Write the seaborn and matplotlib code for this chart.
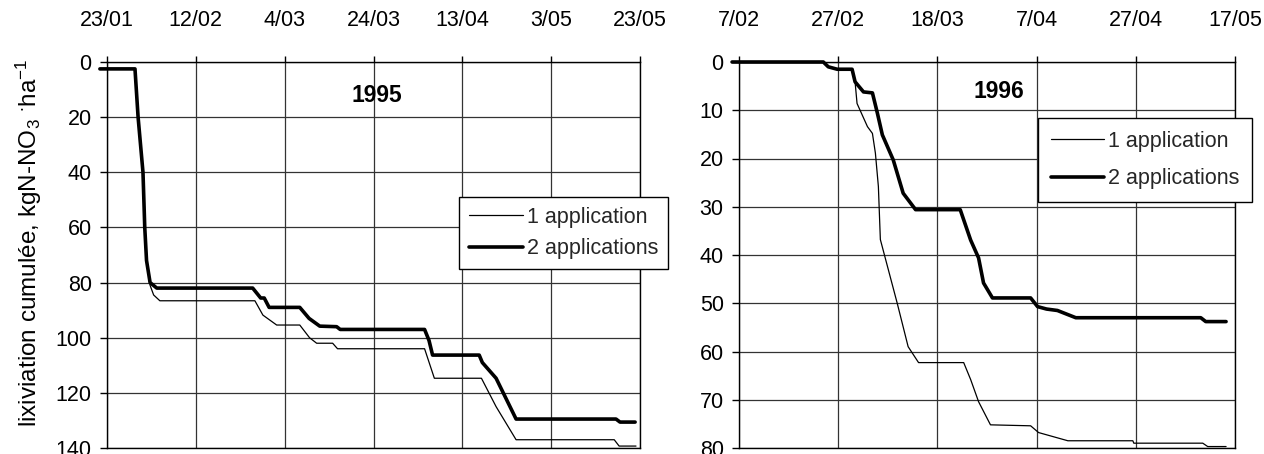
import numpy as np
import pandas as pd
import matplotlib
matplotlib.use("Agg")
import matplotlib.pyplot as plt
import seaborn as sns
from matplotlib.lines import Line2D

# ---------------- data ----------------
# days counted from the first tick date of each panel
days_95_two = [-1.6, 6.3, 7.0, 8.1, 8.5, 8.9, 9.7, 11.2, 32.8, 34.6, 35.4, 36.5, 43.4, 45.5,
               47.9, 51.7, 52.5, 71.5, 72.5, 73.3, 83.8, 84.5, 87.6, 92.1, 114.6, 115.5, 118.9]
vals_95_two = [2.5, 2.5, 20, 40, 60, 72, 80, 82, 82, 85.6, 85.6, 89, 89, 93,
               95.8, 96, 97, 97, 101, 106.3, 106.3, 109, 114.7, 129.5, 129.5, 130.6, 130.6]

days_95_one = [-1.6, 6.3, 7.0, 8.1, 8.5, 8.9, 9.7, 10.5, 11.9, 33.3, 35.1, 38.2, 43.4, 45.6,
               47.2, 50.8, 51.9, 71.5, 73.7, 84.3, 87.6, 92.1, 114.2, 115.3, 119.1]
vals_95_one = [2.5, 2.5, 20, 40, 60, 72, 81, 84.5, 86.6, 86.6, 91.8, 95.4, 95.4, 100,
               102, 102, 104, 104, 114.7, 114.7, 125, 137, 137, 139.3, 139.3]

days_96_two = [-1.4, 17.0, 18.0, 19.8, 22.8, 23.4, 25.1, 26.9, 27.9, 28.9, 31.1, 33.1, 35.6,
               44.6, 46.7, 48.3, 49.3, 51.1, 58.8, 60.2, 62.0, 64.2, 67.9, 93.1, 94.1, 98.2]
vals_96_two = [0, 0, 1.0, 1.5, 1.5, 4.1, 6.2, 6.4, 10.6, 15.1, 20.3, 27.2, 30.6,
               30.6, 36.9, 40.6, 45.8, 48.9, 48.9, 50.7, 51.2, 51.5, 53, 53, 53.8, 53.8]

days_96_one = [-1.4, 17.0, 18.0, 19.8, 22.8, 23.4, 23.8, 25.9, 26.9, 27.5, 28.1, 28.5, 31.9,
               34.1, 36.2, 45.3, 46.7, 48.3, 50.7, 58.8, 60.4, 66.3, 79.4, 79.6, 93.5, 94.5, 98.2]
vals_96_one = [0, 0, 1.0, 1.5, 1.5, 4.1, 8.6, 13.4, 14.8, 18.9, 25.8, 36.8, 50,
               59, 62.3, 62.3, 65.8, 70.4, 75.2, 75.4, 76.8, 78.5, 78.5, 79, 79, 79.7, 79.7]

ticks_95 = ["23/01", "12/02", "4/03", "24/03", "13/04", "3/05", "23/05"]
ticks_96 = ["7/02", "27/02", "18/03", "7/04", "27/04", "17/05"]
series_labels = ["1 application", "2 applications"]
ylabel = "lixiviation cumulée, kgN-NO$_3$ $^{\\cdot}$ha$^{-1}$"

# ---------------- style ----------------
sns.set_theme(style="white")
plt.rcParams['font.family'] = ['Liberation Sans', 'DejaVu Sans']
plt.rcParams['mathtext.fontset'] = 'custom'
plt.rcParams['mathtext.rm'] = 'Liberation Sans'
plt.rcParams['mathtext.it'] = 'Liberation Sans:italic'
plt.rcParams['mathtext.default'] = 'regular'

FS = 15.5
fig = plt.figure(figsize=(12.64, 4.54), dpi=100)
ax1 = fig.add_axes([107 / 1264, 1 - 448 / 454, 533 / 1264, 386 / 454])
ax2 = fig.add_axes([739 / 1264, 1 - 448 / 454, 496 / 1264, 386 / 454])


def draw(ax, d1, v1, d2, v2, xmax, ymax, ystep, xt, title, tpos, legpos, legkw):
    sns.lineplot(x=d1, y=v1, ax=ax, color="black", linewidth=0.9, estimator=None,
                 sort=False, clip_on=False)
    sns.lineplot(x=d2, y=v2, ax=ax, color="black", linewidth=2.6, estimator=None,
                 sort=False, clip_on=False)
    ax.set_xlim(0, xmax)
    ax.set_ylim(ymax, 0)
    ax.set_xticks(np.arange(0, xmax + 1, 20))
    ax.set_xticklabels(xt)
    ax.set_yticks(np.arange(0, ymax + 1, ystep))
    ax.xaxis.tick_top()
    ax.set_xlabel("")
    ax.set_ylabel("")
    ax.grid(True, color="#333333", linewidth=0.9)
    for s in ax.spines.values():
        s.set_color("black")
        s.set_linewidth(1.0)
        s.set_visible(True)
    ax.tick_params(axis="x", top=True, bottom=False, direction="out", length=4, width=1,
                   pad=18, labelsize=FS, color="black", labelcolor="black")
    ax.tick_params(axis="y", left=True, direction="out", length=5, width=1, pad=6,
                   labelsize=FS, color="black", labelcolor="black")
    ax.text(tpos[0], tpos[1], title, ha="center", va="center", fontsize=16.5,
            fontweight="bold", color="black")
    handles = [Line2D([], [], color="black", lw=0.9), Line2D([], [], color="black", lw=2.6)]
    leg = ax.legend(handles, series_labels, loc="upper left", bbox_to_anchor=legpos,
                    bbox_transform=fig.transFigure, frameon=True, fancybox=False,
                    edgecolor="black", framealpha=1, handletextpad=0.2,
                    fontsize=FS, borderaxespad=0, **legkw)
    leg.get_frame().set_linewidth(1.0)


draw(ax1, days_95_one, vals_95_one, days_95_two, vals_95_two, 120, 140, 20, ticks_95,
     "1995", (60.7, 12), (459 / 1264, 1 - 197 / 454),
     dict(handlelength=2.5, borderpad=0.45, labelspacing=0.5))
draw(ax2, days_96_one, vals_96_one, days_96_two, vals_96_two, 100, 80, 10, ticks_96,
     "1996", (52.3, 6.2), (1038 / 1264, 1 - 118 / 454),
     dict(handlelength=2.45, borderpad=0.6, labelspacing=0.75))

fig.text(29 / 1264, 1 - 243 / 454, ylabel, rotation=90, ha="center", va="center",
         fontsize=17.5, color="black")

fig.savefig("out.png", dpi=100, facecolor="white")
